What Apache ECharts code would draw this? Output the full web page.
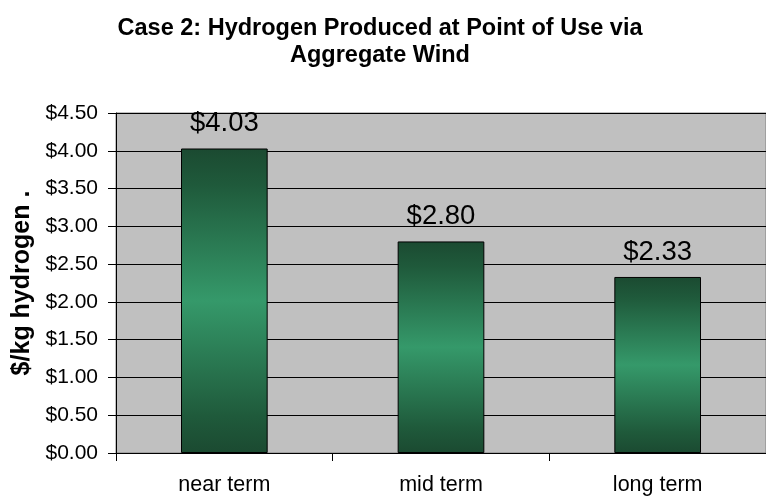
<!DOCTYPE html>
<html>
<head>
<meta charset="utf-8">
<script src="https://cdn.jsdelivr.net/npm/echarts@6/dist/echarts.min.js"></script>
<style>
  html, body { margin: 0; padding: 0; background: #fff; }
  #chart { width: 766px; height: 497px; }
</style>
</head>
<body>
<div id="chart"></div>
<script>
// values
var categories = ['near term', 'mid term', 'long term'];
var costs = [4.03, 2.80, 2.33];
var chartTitle = 'Case 2: Hydrogen Produced at Point of Use via\nAggregate Wind';
var yName = '$/kg hydrogen .';

var font = 'Liberation Sans, Arial, sans-serif';

var barFill = new echarts.graphic.LinearGradient(0, 0, 0, 1, [
    {offset: 0, color: '#1b4a31'},
    {offset: 0.12, color: '#1f5a3b'},
    {offset: 0.5, color: '#35996a'},
    {offset: 0.88, color: '#1f5a3b'},
    {offset: 1, color: '#1b4a31'}
]);

var myChart = echarts.init(document.getElementById('chart'));
myChart.setOption({
    backgroundColor: '#fff',
    animation: false,
    title: {
        text: chartTitle,
        left: 375,
        textAlign: 'center',
        top: 10,
        textStyle: {
            fontFamily: font,
            fontSize: 23.5,
            fontWeight: 'bold',
            color: '#000',
            lineHeight: 27
        }
    },
    grid: {
        left: 116,
        top: 113,
        width: 662,
        height: 340,
        show: true,
        backgroundColor: '#c0c0c0',
        borderColor: '#808080',
        borderWidth: 1
    },
    xAxis: {
        type: 'category',
        data: categories,
        axisLine: {lineStyle: {color: '#000', width: 1}},
        axisTick: {show: true, length: 8, lineStyle: {color: '#000'}},
        axisLabel: {
            margin: 21,
            fontFamily: font,
            fontSize: 21.5,
            color: '#000'
        }
    },
    yAxis: {
        type: 'value',
        min: 0,
        max: 4.5,
        interval: 0.5,
        name: yName,
        nameLocation: 'middle',
        nameRotate: 90,
        nameGap: 73,
        nameTextStyle: {
            fontFamily: font,
            fontSize: 25,
            fontWeight: 'bold',
            color: '#000'
        },
        axisLine: {show: true, lineStyle: {color: '#000', width: 1}},
        axisTick: {show: true, length: 8, lineStyle: {color: '#000'}},
        splitLine: {show: true, lineStyle: {color: '#000', width: 1}},
        axisLabel: {
            margin: 18,
            fontFamily: font,
            fontSize: 21,
            color: '#000',
            formatter: function (v) { return '$' + v.toFixed(2); }
        }
    },
    series: [{
        type: 'bar',
        data: costs,
        barWidth: '40%',
        itemStyle: {
            color: barFill,
            borderColor: '#000',
            borderWidth: 1
        },
        label: {
            show: true,
            position: 'top',
            distance: 11,
            fontFamily: font,
            fontSize: 27.5,
            color: '#000',
            formatter: function (p) { return '$' + p.value.toFixed(2); }
        }
    }]
});
</script>
</body>
</html>
